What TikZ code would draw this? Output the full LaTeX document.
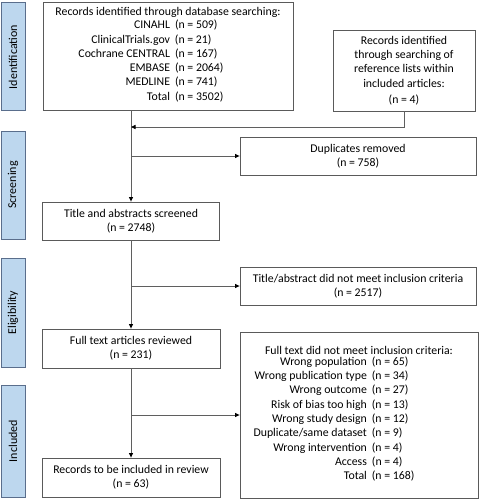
\documentclass[tikz,border=0pt]{standalone}
\usepackage{fontspec}
\setmainfont{Carlito}
\usetikzlibrary{arrows.meta}
\definecolor{barfill}{RGB}{189,215,238}
\definecolor{bardraw}{RGB}{90,110,140}
\definecolor{boxdraw}{RGB}{90,90,90}
\definecolor{linecol}{RGB}{95,95,95}
\tikzset{
  bodyfont/.style={font=\fontsize{11.8}{14.3}\selectfont},
  sidebar/.style={draw=bardraw, fill=barfill, line width=1pt, rotate=90, minimum height=24pt, inner sep=0pt, font=\fontsize{12}{14}\selectfont},
  flowbox/.style={draw=boxdraw, fill=white, line width=0.8pt, align=center, inner sep=0pt, bodyfont},
  arr/.style={draw=linecol, line width=0.9pt, -{Triangle[length=4.5pt,width=4pt,fill=black,color=black]}},
  ln/.style={draw=linecol, line width=0.9pt}
}
\begin{document}
\begin{tikzpicture}[x=1pt,y=-1pt]
\useasboundingbox (0,0) rectangle (479,500);
% side bars
\node[sidebar, minimum width=108pt] (sid) at (13,57) {Identification};
\node[sidebar, minimum width=108pt] (sscr) at (13,185) {Screening};
\node[sidebar, minimum width=109pt] (seli) at (13,312.5) {Eligibility};
\node[sidebar, minimum width=112pt] (sinc) at (13,441) {Included};
% boxes
\node[flowbox, minimum width=250pt, minimum height=108pt] (db) at (168,56) {Records identified through database searching:\\
\begin{tabular}{@{}r@{\hspace{5pt}}l@{\hspace{34pt}}}
CINAHL & (n = 509)\\
ClinicalTrials.gov & (n = 21)\\
Cochrane CENTRAL & (n = 167)\\
EMBASE & (n = 2064)\\
MEDLINE & (n = 741)\\
Total & (n = 3502)
\end{tabular}};
\node[flowbox, minimum width=142pt, minimum height=81pt] (ref) at (404,70.5) {Records identified\\through searching of\\reference lists within\\included articles:\\[2pt](n = 4)};
\node[flowbox, minimum width=236pt, minimum height=38pt] (dup) at (358,156) {Duplicates removed\\(n = 758)};
\node[flowbox, minimum width=177pt, minimum height=38pt] (tas) at (131,221) {Title and abstracts screened\\(n = 2748)};
\node[flowbox, minimum width=236pt, minimum height=38pt] (tae) at (358,286) {Title/abstract did not meet inclusion criteria\\(n = 2517)};
\node[flowbox, minimum width=178pt, minimum height=39pt] (ftr) at (131,348.5) {Full text articles reviewed\\(n = 231)};
\node[flowbox, minimum width=238pt, minimum height=166pt] (fte) at (359,415) {Full text did not meet inclusion criteria:\\
\begin{tabular}{@{}r@{\hspace{5pt}}l@{\hspace{50pt}}}
Wrong population & (n = 65)\\
Wrong publication type & (n = 34)\\
Wrong outcome & (n = 27)\\
Risk of bias too high & (n = 13)\\
Wrong study design & (n = 12)\\
Duplicate/same dataset & (n = 9)\\
Wrong intervention & (n = 4)\\
Access & (n = 4)\\
Total & (n = 168)
\end{tabular}};
\node[flowbox, minimum width=178pt, minimum height=39pt] (rec) at (131,477.5) {Records to be included in review\\(n = 63)};
% connectors
\coordinate (j1) at (131,127);
\draw[arr] (db.south -| tas.north) -- (tas.north);
\draw[arr] (ref.south) |- (j1);
\draw[arr] (tas.north |- dup.west) -- (dup.west);
\draw[arr] (tas.south) -- (ftr.north);
\draw[arr] (ftr.north |- tae.west) -- (tae.west);
\draw[arr] (ftr.south) -- (rec.north);
\draw[arr] (rec.north |- fte.west) -- (fte.west);
\end{tikzpicture}
\end{document}
